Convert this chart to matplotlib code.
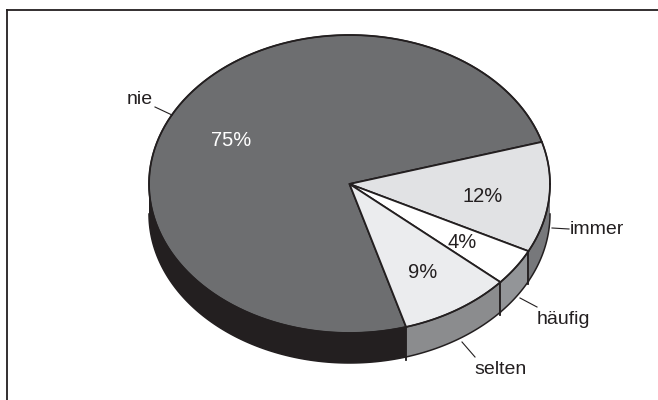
import numpy as np
import matplotlib
matplotlib.use("Agg")
import matplotlib.pyplot as plt
from matplotlib.patches import Polygon

# ---- data ----
categories = ["nie", "immer", "häufig", "selten"]
values = [75, 12, 4, 9]
pct_labels = ["75%", "12%", "4%", "9%"]

# ---- styling / layout ----
top_colors = ["#6d6e70", "#e1e2e4", "#ffffff", "#ebecee"]
side_colors = ["#231f20", "#77787b", "#939598", "#8b8c8e"]
pct_colors = ["white", "#231f20", "#231f20", "#231f20"]
cx, cy, ra, rb, depth = 349.5, 184.0, 200.5, 149.0, 30.0
start_angle = -73.6  # degrees, slices run clockwise

pct_pos = [(231, 141), (483, 197), (462, 242), (423, 272)]
cat_pos = [(153, 100, "right"), (570, 230, "left"), (537, 320, "left"), (474, 370, "left")]
leaders = [((155, 107), (172, 115)), ((552, 228), (569, 229)),
           ((520, 298), (537, 307)), ((462, 342), (475, 357))]

plt.rcParams['font.family'] = ['Liberation Sans', 'DejaVu Sans']

fig = plt.figure(figsize=(6.58, 4.0), dpi=100)
ax = fig.add_axes([0, 0, 1, 1])
ax.set_xlim(0, 658)
ax.set_ylim(400, 0)
ax.axis("off")


def arc(t0, t1, dy=0.0, n=120):
    t = np.radians(np.linspace(t0, t1, n))
    return np.column_stack([cx + ra * np.cos(t), cy - rb * np.sin(t) + dy])


total = float(sum(values))
bounds = []
cur = start_angle
for v in values:
    nxt = cur - 360.0 * v / total
    bounds.append((nxt, cur))
    cur = nxt

# sides (front half only)
for i, (lo, hi) in enumerate(bounds):
    for k in range(-2, 2):
        vlo, vhi = -180 + 360 * k, 360 * k
        s0, s1 = max(lo, vlo), min(hi, vhi)
        if s1 <= s0:
            continue
        top = arc(s0, s1)
        bot = arc(s1, s0, depth)
        ax.add_patch(Polygon(np.vstack([top, bot]), closed=True,
                             facecolor=side_colors[i], edgecolor="none", zorder=2))
        bb = arc(s0, s1, depth)
        ax.plot(bb[:, 0], bb[:, 1], color="#231f20", lw=1.1, zorder=3)
        for e in (s0, s1):
            if abs(e - vlo) < 1e-6 or abs(e - vhi) < 1e-6:
                continue
            p = arc(e, e)[0]
            ax.plot([p[0], p[0]], [p[1], p[1] + depth + 3], color="#231f20", lw=1.1, zorder=3)

# tops
for i, (lo, hi) in enumerate(bounds):
    pts = np.vstack([[cx, cy], arc(hi, lo)])
    ax.add_patch(Polygon(pts, closed=True, facecolor=top_colors[i],
                         edgecolor="#231f20", lw=1.3, joinstyle="miter", zorder=4))

# outer outline of top
full = arc(0, 360, n=400)
ax.plot(full[:, 0], full[:, 1], color="#231f20", lw=1.0, zorder=5)

# labels
for i, lab in enumerate(pct_labels):
    ax.text(pct_pos[i][0], pct_pos[i][1], lab, color=pct_colors[i], fontsize=14.5,
            ha="center", va="center", zorder=6)
for i, c in enumerate(categories):
    x, y, ha = cat_pos[i]
    ax.text(x, y, c, color="#231f20", fontsize=14, ha=ha, va="center", zorder=6)
for (a0, a1) in leaders:
    ax.plot([a0[0], a1[0]], [a0[1], a1[1]], color="#231f20", lw=0.8, zorder=6)

# frame (top and left only)
ax.plot([7, 658], [9.5, 9.5], color="#231f20", lw=1.3, zorder=7)
ax.plot([7, 7], [9.5, 400], color="#231f20", lw=1.3, zorder=7)

fig.savefig("out.png", dpi=100)
